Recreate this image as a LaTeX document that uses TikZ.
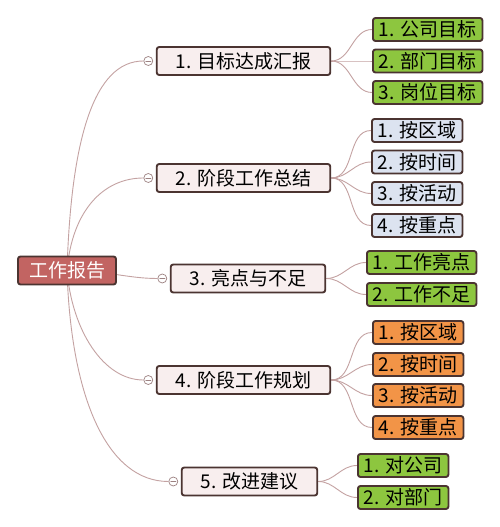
\documentclass[tikz,border=0pt]{standalone}
\usepackage{fontspec}
\setmainfont{Noto Sans CJK SC}
\usetikzlibrary{backgrounds}
\definecolor{rootred}{HTML}{C26462}
\definecolor{edgebrown}{HTML}{4B3431}
\definecolor{palepink}{HTML}{F8EEEE}
\definecolor{leafgreen}{HTML}{8DC63F}
\definecolor{leafblue}{HTML}{DCE3F0}
\definecolor{leaforange}{HTML}{F29447}
\definecolor{linkcol}{HTML}{C4A2A2}
\tikzset{
  box/.style={draw=edgebrown, line width=1.9pt, rounded corners=2.5pt, inner ysep=0pt},
  rootbox/.style={box, fill=rootred, text=white, minimum height=28pt, inner xsep=11pt},
  topic/.style={box, fill=palepink, minimum height=28pt, inner xsep=19pt},
  leaf/.style={box, minimum height=23pt, inner xsep=6pt, anchor=west},
  fold/.style={circle, draw=linkcol!80!black, fill=white, line width=0.7pt, minimum size=9pt, inner sep=0pt,
    path picture={\draw[linkcol!80!black, line width=0.7pt] ([xshift=-2.6pt]path picture bounding box.center) -- ([xshift=2.6pt]path picture bounding box.center);}},
  link/.style={draw=linkcol, line width=0.9pt}
}
\begin{document}
\begin{tikzpicture}[x=1pt, y=1pt, font=\fontsize{19}{22}\selectfont, line join=round, line cap=round]
			\useasboundingbox (0,0) rectangle (500,527);
			% centre
			\node[rootbox] (root) at (67,256.5) {工作报告};
			% main topics
			\node[topic] (t1) at (243.5,466) {1. 目标达成汇报};
			\node[topic] (t2) at (243.5,349) {2. 阶段工作总结};
			\node[topic] (t3) at (248,248.5) {3. 亮点与不足};
			\node[topic] (t4) at (243.5,147) {4. 阶段工作规划};
			\node[topic] (t5) at (249.5,45.5) {5. 改进建议};
			\node[fold] (f1) at ([xshift=-7.5pt]t1.west) {};
			\node[fold] (f2) at ([xshift=-7.5pt]t2.west) {};
			\node[fold] (f3) at ([xshift=-7.5pt]t3.west) {};
			\node[fold] (f4) at ([xshift=-7.5pt]t4.west) {};
			\node[fold] (f5) at ([xshift=-7.5pt]t5.west) {};
			% sub topics
			\node[leaf, fill=leafgreen] (a1) at (372,497.5) {1. 公司目标};
			\node[leaf, fill=leafgreen] (a2) at (372,466) {2. 部门目标};
			\node[leaf, fill=leafgreen] (a3) at (372,434.5) {3. 岗位目标};
			\node[leaf, fill=leafblue] (b1) at (371,396.5) {1. 按区域};
			\node[leaf, fill=leafblue] (b2) at (371,365) {2. 按时间};
			\node[leaf, fill=leafblue] (b3) at (371,333.5) {3. 按活动};
			\node[leaf, fill=leafblue] (b4) at (371,301.5) {4. 按重点};
			\node[leaf, fill=leafgreen] (c1) at (366,264.5) {1. 工作亮点};
			\node[leaf, fill=leafgreen] (c2) at (366,232.5) {2. 工作不足};
			\node[leaf, fill=leaforange] (d1) at (372,194.5) {1. 按区域};
			\node[leaf, fill=leaforange] (d2) at (372,162.5) {2. 按时间};
			\node[leaf, fill=leaforange] (d3) at (372,131.5) {3. 按活动};
			\node[leaf, fill=leaforange] (d4) at (372,99.5) {4. 按重点};
			\node[leaf, fill=leafgreen] (e1) at (357,61.5) {1. 对公司};
			\node[leaf, fill=leafgreen] (e2) at (357,29.5) {2. 对部门};
			% connectors
			\begin{scope}[on background layer]
				\fill[white] (0,0) rectangle (500,527);
				\draw[link] (root.center) .. controls +(4,130) and +(-50,0) .. (f1.west);
				\draw[link] (root.center) .. controls +(5,60) and +(-40,0) .. (f2.west);
				\draw[link] (root.center) .. controls +(40,0) and +(-30,0) .. (f3.west);
				\draw[link] (root.center) .. controls +(5,-60) and +(-40,0) .. (f4.west);
				\draw[link] (root.center) .. controls +(4,-130) and +(-60,0) .. (f5.west);
				\draw[link] (t1.east) to[out=0, in=180] (a1.west);
				\draw[link] (t1.east) to[out=0, in=180] (a2.west);
				\draw[link] (t1.east) to[out=0, in=180] (a3.west);
				\draw[link] (t2.east) to[out=0, in=180] (b1.west);
				\draw[link] (t2.east) to[out=0, in=180] (b2.west);
				\draw[link] (t2.east) to[out=0, in=180] (b3.west);
				\draw[link] (t2.east) to[out=0, in=180] (b4.west);
				\draw[link] (t3.east) to[out=0, in=180] (c1.west);
				\draw[link] (t3.east) to[out=0, in=180] (c2.west);
				\draw[link] (t4.east) to[out=0, in=180] (d1.west);
				\draw[link] (t4.east) to[out=0, in=180] (d2.west);
				\draw[link] (t4.east) to[out=0, in=180] (d3.west);
				\draw[link] (t4.east) to[out=0, in=180] (d4.west);
				\draw[link] (t5.east) to[out=0, in=180] (e1.west);
				\draw[link] (t5.east) to[out=0, in=180] (e2.west);
			\end{scope}
		\end{tikzpicture}
\end{document}
